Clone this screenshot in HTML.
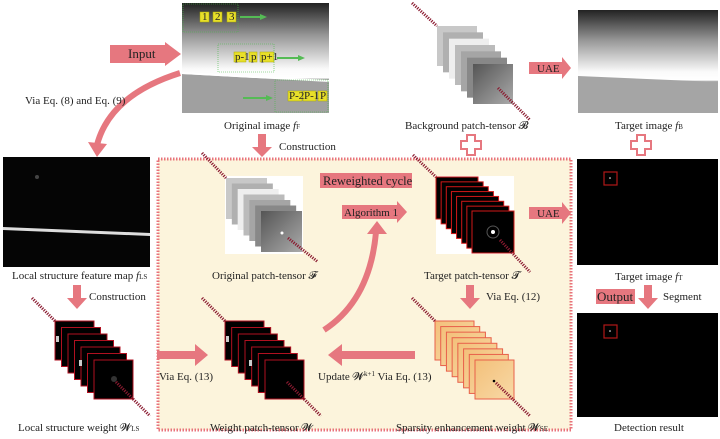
<!DOCTYPE html>
<html><head><meta charset="utf-8"><style>
body{margin:0;width:720px;height:439px;overflow:hidden;background:#fff}
svg{display:block}
text{font-family:"Liberation Serif",serif;font-size:11px;fill:#222}
</style></head><body>
<svg id="s" width="720" height="439" viewBox="0 0 720 439" xmlns="http://www.w3.org/2000/svg">
<defs>
<linearGradient id="gtop" x1="0" y1="0" x2="0" y2="1">
<stop offset="0" stop-color="#222"/><stop offset="0.3" stop-color="#999"/><stop offset="0.6" stop-color="#fafafa"/><stop offset="0.68" stop-color="#fff"/><stop offset="0.7" stop-color="#8a8a8a"/><stop offset="1" stop-color="#bbb"/></linearGradient>
<linearGradient id="gfb" x1="0" y1="0" x2="0" y2="1">
<stop offset="0" stop-color="#222"/><stop offset="0.3" stop-color="#999"/><stop offset="0.6" stop-color="#fafafa"/><stop offset="0.68" stop-color="#fff"/><stop offset="0.7" stop-color="#8a8a8a"/><stop offset="1" stop-color="#bbb"/></linearGradient>
<linearGradient id="gsq" x1="0" y1="0" x2="1" y2="1"><stop offset="0" stop-color="#555"/><stop offset="1" stop-color="#aaa"/></linearGradient>
<linearGradient id="gor" x1="0" y1="0" x2="1" y2="1"><stop offset="0" stop-color="#f3c07a"/><stop offset="1" stop-color="#f8d9a6"/></linearGradient>
</defs>
<!-- yellow dashed region -->
<rect x="158" y="159" width="413" height="271" fill="#fcf4dc" stroke="#e8737b" stroke-width="3" stroke-dasharray="1.5,1.5"/>

<!-- original image -->
<rect x="182" y="3" width="147" height="110" fill="url(#gtop)"/>
<polygon points="182,74 329,82 329,113 182,113" fill="#a0a0a0"/>
<polygon points="182,72 329,80 329,82 182,74" fill="#fff"/>
<g fill="#e8df2a" stroke="#aa0" stroke-width="0.5">
<rect x="200" y="12" width="9" height="10"/><rect x="213" y="12" width="9" height="10"/><rect x="227" y="12" width="9" height="10"/>
<rect x="234" y="52" width="12" height="10"/><rect x="249" y="52" width="8" height="10"/><rect x="260" y="52" width="14" height="10"/>
<rect x="288" y="91" width="14" height="10"/><rect x="303" y="91" width="13" height="10"/><rect x="318" y="91" width="9" height="10"/></g>
<g style="font-size:7px"><text x="202" y="20">1</text><text x="215" y="20">2</text><text x="229" y="20">3</text>
<text x="235" y="60">p-1</text><text x="251" y="60">p</text><text x="261" y="60">p+1</text>
<text x="289" y="99">P-2</text><text x="304" y="99">P-1</text><text x="320" y="99">P</text></g>
<g fill="none" stroke="#4b4" stroke-width="0.6" stroke-dasharray="1,1"><rect x="183" y="4" width="55" height="28"/><rect x="218" y="44" width="56" height="28"/><rect x="275" y="80" width="53" height="32"/></g>
<g stroke="#5b5" stroke-width="2"><line x1="240" y1="17" x2="260" y2="17"/><line x1="277" y1="58" x2="298" y2="58"/><line x1="243" y1="98" x2="266" y2="98"/></g>
<g fill="#5b5"><polygon points="260,14 267,17 260,20"/><polygon points="298,55 305,58 298,61"/><polygon points="266,95 273,98 266,101"/></g>

<!-- Input arrow -->
<polygon points="110,45 165,45 165,42 181,54 165,66 165,63 110,63" fill="#e6777f"/>
<text x="128" y="58" style="font-size:13px">Input</text>
<!-- curved arrow -->
<path d="M180,73 Q110,95 97,145" fill="none" stroke="#e6777f" stroke-width="6"/>
<polygon points="88,142 97,157 107,144" fill="#e6777f"/>
<text x="25" y="104">Via Eq. (8) and Eq. (9)</text>
<text x="224" y="129">Original image <tspan font-style="italic">f</tspan><tspan style="font-size:7px">F</tspan></text>
<polygon points="258,134 266,134 266,147 272,147 262,157 252,147 258,147" fill="#e6777f"/>
<text x="279" y="150">Construction</text>

<!-- left image -->
<rect x="3" y="157" width="147" height="110" fill="#050505"/>
<polygon points="3,227 150,233 150,236 3,230" fill="#ddd"/>
<circle cx="37" cy="177" r="2" fill="#444"/>
<text x="12" y="279">Local structure feature map <tspan font-style="italic">f</tspan><tspan style="font-size:7px">LS</tspan></text>
<polygon points="73,285 81,285 81,298 87,298 77,309 67,298 73,298" fill="#e6777f"/>
<text x="89" y="300">Construction</text>
<text x="18" y="431">Local structure weight 𝓦<tspan style="font-size:7px">LS</tspan></text>

<!-- right arrows mid -->
<polygon points="157,351 195,351 195,344 208,355 195,366 195,359 157,359" fill="#e6777f"/>
<text x="159" y="380">Via Eq. (13)</text>
<text x="210" y="431">Weight patch-tensor 𝓦</text>
<polygon points="415,351 342,351 342,344 328,355 342,366 342,359 415,359" fill="#e6777f"/>
<text x="318" y="380">Update 𝓦<tspan dy="-4" style="font-size:7px">k+1</tspan><tspan dy="4"> Via Eq. (13)</tspan></text>
<text x="396" y="431">Sparsity enhancement weight 𝓦<tspan style="font-size:7px">SE</tspan></text>

<!-- curved up arrow -->
<path d="M324,330 Q370,300 376,232" fill="none" stroke="#e6777f" stroke-width="6"/>
<polygon points="367,234 377,221 387,234" fill="#e6777f"/>
<rect x="320" y="173" width="92" height="15" fill="#e6777f"/>
<text x="323" y="185" style="font-size:12.5px">Reweighted cycle</text>
<polygon points="342,205 397,205 397,201 407,212 397,223 397,219 342,219" fill="#e6777f"/>
<text x="344" y="216">Algorithm 1</text>
<text x="212" y="279">Original patch-tensor 𝓕</text>
<text x="424" y="279">Target patch-tensor 𝓣</text>
<polygon points="466,285 474,285 474,298 480,298 470,309 460,298 466,298" fill="#e6777f"/>
<text x="486" y="300">Via Eq. (12)</text>

<!-- UAE arrows -->
<polygon points="529,207 562,207 562,202 571,213 562,224 562,219 529,219" fill="#e6777f"/>
<text x="537" y="217">UAE</text>
<polygon points="529,62 562,62 562,57 571,68 562,79 562,74 529,74" fill="#e6777f"/>
<text x="537" y="72">UAE</text>
<text x="405" y="129">Background patch-tensor 𝓑</text>

<!-- fB -->
<rect x="578" y="10" width="140" height="103" fill="url(#gfb)"/>
<polygon points="578,76 718,82 718,113 578,113" fill="#a5a5a5"/>
<text x="615" y="129">Target image <tspan font-style="italic">f</tspan><tspan style="font-size:7px">B</tspan></text>
<!-- plus signs -->
<path d="M467,135h8v6h6v8h-6v6h-8v-6h-6v-8h6z" fill="#fff" stroke="#e6777f" stroke-width="2"/>
<path d="M637,135h8v6h6v8h-6v6h-8v-6h-6v-8h6z" fill="#fff" stroke="#e6777f" stroke-width="2"/>

<!-- fT -->
<rect x="577" y="159" width="141" height="106" fill="#000"/>
<rect x="604" y="172" width="13" height="13" fill="none" stroke="#b01818" stroke-width="1.2"/>
<circle cx="610" cy="178" r="0.8" fill="#fff"/>
<text x="615" y="280">Target image <tspan font-style="italic">f</tspan><tspan style="font-size:7px">T</tspan></text>
<rect x="596" y="289" width="39" height="15" fill="#e6777f"/>
<text x="597" y="301" style="font-size:13px">Output</text>
<polygon points="644,285 652,285 652,298 658,298 648,309 638,298 644,298" fill="#e6777f"/>
<text x="663" y="300">Segment</text>
<rect x="577" y="313" width="141" height="104" fill="#000"/>
<rect x="604" y="325" width="13" height="13" fill="none" stroke="#b01818" stroke-width="1.2"/>
<circle cx="610" cy="331" r="0.8" fill="#fff"/>
<text x="614" y="431">Detection result</text>
<g id="stacks"></g>
</svg>
<script>
var g=document.getElementById('stacks'),ns='http://www.w3.org/2000/svg',h='';
function stack(x0,y0,x1,y1,n,sz,fill,stroke){for(var i=0;i<n;i++){var t=i/(n-1);var x=x0+(x1-x0)*t,y=y0+(y1-y0)*t;
var f=typeof fill=='function'?fill(i):fill;h+='<rect x="'+x+'" y="'+y+'" width="'+sz+'" height="'+sz+'" fill="'+f+'" stroke="'+stroke+'" stroke-width="1"/>';}}
function dash(x1,y1,x2,y2){h+='<line x1="'+x1+'" y1="'+y1+'" x2="'+x2+'" y2="'+y2+'" stroke="#8a1a30" stroke-width="3" stroke-dasharray="1.2,1.2"/>';}
var grays=['#c8c8c8','#b0b0b0','#eee','#bbb','#a5a5a5','#888','url(#gsq)'];
// B
stack(437,26,473,64,7,40,function(i){return grays[i]},'none');
dash(412,3,437,26);dash(498,88,530,120);
// F
h+='<rect x="225" y="176" width="78" height="78" fill="#fff"/>';
stack(226,178,261,211,7,41,function(i){return grays[i]},'none');
h+='<circle cx="282" cy="233" r="1.5" fill="#fff"/>';
dash(202,153,226,178);dash(288,238,318,262);
// T
h+='<rect x="436" y="176" width="78" height="78" fill="#fff"/>';
stack(436,177,472,211,8,42,'#000','#d01818');
h+='<circle cx="493" cy="232" r="2" fill="#fff"/><circle cx="493" cy="232" r="6" fill="none" stroke="#555" stroke-width="1"/>';
dash(413,155,436,177);dash(500,240,530,272);
// W_LS
stack(55,321,94,360,7,39,'#000','#b01020');
h+='<rect x="56" y="336" width="3" height="6" fill="#ccc"/><rect x="79" y="360" width="3" height="6" fill="#ccc"/><circle cx="114" cy="379" r="3" fill="#333"/>';
dash(32,298,55,321);dash(116,382,150,416);
// W
stack(225,321,265,360,7,39,'#000','#b01020');
h+='<rect x="226" y="336" width="3" height="6" fill="#ccc"/><rect x="249" y="360" width="3" height="6" fill="#ccc"/>';
dash(202,298,225,321);dash(287,382,321,416);
// SE
stack(435,321,475,360,8,39,'url(#gor)','#e8604a');
h+='<circle cx="494" cy="381" r="1.3" fill="#000"/>';
dash(412,298,435,321);dash(496,383,530,416);
g.innerHTML=h;
</script>
</body></html>
